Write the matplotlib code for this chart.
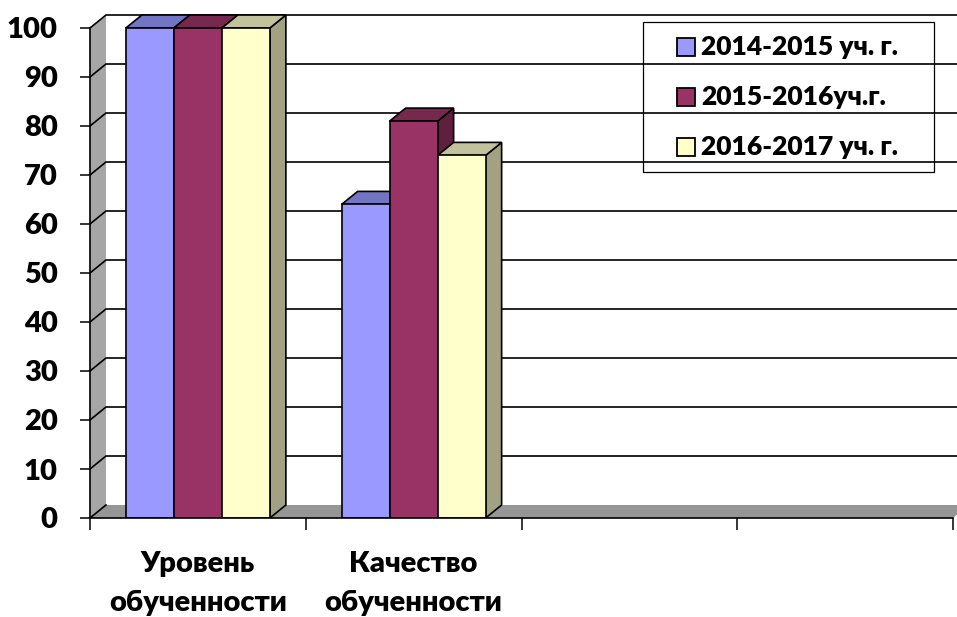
import matplotlib.pyplot as plt
from matplotlib.patches import Polygon, Rectangle

# data
categories = ['Уровень\nобученности', 'Качество\nобученности', '', '']
series = ['2014-2015 уч. г.', '2015-2016уч.г.', '2016-2017 уч. г.']
values_2014 = [100, 64]
values_2015 = [100, 81]
values_2016 = [100, 74]
yticks = list(range(0, 101, 10))

# excel 2003 style palette: front / top / side faces
front = ['#9999ff', '#993366', '#ffffcc']
top = ['#7474c4', '#77284f', '#c2c29c']
side = ['#6868b0', '#5f1f3f', '#a2a282']

plt.rcParams['font.family'] = ['Lato', 'DejaVu Sans']
plt.rcParams['font.weight'] = 'heavy'

W, H = 957, 617
fig = plt.figure(figsize=(W/100., H/100.), dpi=100)
# y-axis sits at x=90px, zero line at y=518px
ax = fig.add_axes([90./W, (H-518.)/H, (W-90.)/W, (518.-10)/H])
ax.patch.set_alpha(0)

cat_px = (953 - 90) / 4.0
val_px = 4.9
ax.set_xlim(0, (W-90) / cat_px)
ax.set_ylim(0, 508 / val_px)

n_cat = len(categories)
ymax = yticks[-1]
dx = 16 / cat_px   # depth offset of the fake 3d
dy = 13 / val_px
bw = 48 / cat_px   # bar width

# walls
ax.add_patch(Polygon([(0, 0), (dx, dy), (dx, ymax+dy), (0, ymax)], closed=True,
                     fc='#a6a6a6', ec='none', zorder=1))
ax.add_patch(Polygon([(0, 0), (n_cat, 0), (n_cat+dx, dy), (dx, dy)], closed=True,
                     fc='#969696', ec='none', zorder=1))

# gridlines on side wall + back wall
ax.plot([0, dx], [0, dy], color='black', lw=1.2, zorder=2)
for v in yticks[1:]:
    ax.plot([0, dx, n_cat+dx], [v, v+dy, v+dy], color='black', lw=1.2, zorder=2,
            solid_joinstyle='miter')

data = [values_2014, values_2015, values_2016]
for i in range(len(values_2014)):
    for j, vals in enumerate(data):
        v = vals[i]
        x0 = i + 0.5 - 1.5*bw + j*bw
        z = 3 + i*10 + j*3
        ax.add_patch(Polygon([(x0+bw, 0), (x0+bw+dx, dy), (x0+bw+dx, v+dy), (x0+bw, v)],
                             closed=True, fc=side[j], ec='black', lw=1.2, zorder=z,
                             joinstyle='miter'))
        ax.add_patch(Polygon([(x0, v), (x0+dx, v+dy), (x0+bw+dx, v+dy), (x0+bw, v)],
                             closed=True, fc=top[j], ec='black', lw=1.2, zorder=z+1,
                             joinstyle='miter'))
        ax.add_patch(Rectangle((x0, 0), bw, v, fc=front[j], ec='black', lw=1.2,
                               zorder=z+2, joinstyle='miter'))

ax.spines['top'].set_visible(False)
ax.spines['right'].set_visible(False)
ax.spines['left'].set_bounds(0, ymax)
ax.spines['bottom'].set_bounds(0, n_cat)
for s in ['left', 'bottom']:
    ax.spines[s].set_linewidth(1.2)
    ax.spines[s].set_zorder(50)

ax.set_yticks(yticks)
ax.set_yticklabels([str(t) for t in yticks])
ax.tick_params(axis='y', direction='out', length=7.2, width=1.1, pad=16, labelsize=21)

ax.set_xticks(range(n_cat+1))
ax.set_xticklabels([])
ax.tick_params(axis='x', which='major', direction='out', length=8.6, width=1.1)
ax.set_xticks([i + 0.5 for i in range(n_cat)], minor=True)
ax.set_xticklabels(categories, minor=True)
ax.tick_params(axis='x', which='minor', length=0, pad=24, labelsize=21)
for lab in ax.get_xticklabels(minor=True):
    lab.set_linespacing(1.6)

# legend drawn by hand, pixel positions from top-left
def px(x, y):
    return (x / W, 1 - y / H)

fig.patches.append(Rectangle(px(643, 172), 291./W, 150./H, transform=fig.transFigure,
                             fill=False, ec='black', lw=0.9))
baselines = [55, 105, 155]
for j, name in enumerate(series):
    b = baselines[j]
    fig.patches.append(Rectangle(px(677, b+1), 18./W, 18./H, transform=fig.transFigure,
                                 fc=front[j], ec='black', lw=1.3))
    fig.text(*px(701, b), name, fontsize=19, va='baseline', ha='left')

fig.savefig('out.png', dpi=100)
